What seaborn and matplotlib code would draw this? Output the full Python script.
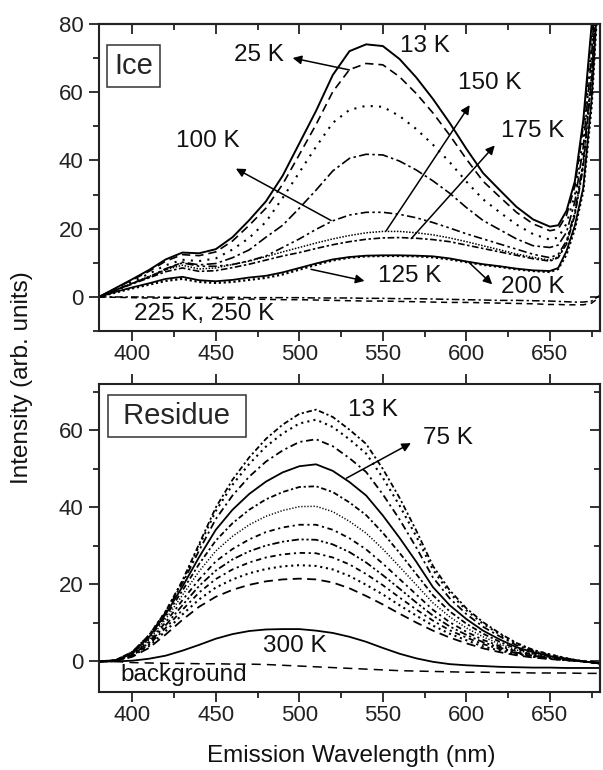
import matplotlib
matplotlib.use("Agg")
import matplotlib.pyplot as plt
import seaborn as sns
from matplotlib.ticker import MultipleLocator

sns.set_theme(style="ticks")
plt.rcParams["font.family"] = ["Liberation Sans", "DejaVu Sans"]
plt.rcParams["axes.linewidth"] = 1.5
plt.rcParams["axes.edgecolor"] = "#222222"

# ---------------- DATA: Ice panel ---------------- #
wl_ice = [380, 390, 400, 410, 420, 430, 440, 450, 460, 470, 480, 490, 500, 510,
          520, 530, 540, 550, 560, 570, 580, 590, 600, 610, 620, 630, 640, 650,
          655, 660, 665, 670, 675, 680]

ice_13K = [0, 2.6, 5.2, 7.9, 11.0, 13.0, 12.8, 14.0, 17.5, 22.5, 28.0, 35.5, 45.0, 54.5,
           65.0, 72.0, 74.0, 73.5, 69.7, 64.3, 58.0, 51.0, 43.4, 36.3, 31.3, 26.4, 22.7, 20.6,
           21.0, 25.3, 34.0, 51.8, 79.7, 115]
ice_25K = [0, 2.5, 5.0, 7.5, 10.5, 12.4, 12.1, 13.2, 16.4, 21.0, 26.0, 33.0, 41.7, 50.5,
           60.1, 66.6, 68.4, 68.0, 64.5, 59.6, 53.9, 47.4, 40.4, 33.9, 29.3, 24.8, 21.4, 19.4,
           19.9, 24.0, 32.5, 50.0, 78.0, 114]
ice_50K = [0, 2.3, 4.5, 6.8, 9.3, 10.9, 10.5, 11.3, 13.9, 17.3, 22.0, 29.0, 36.5, 44.0,
           51.0, 54.8, 56.0, 55.7, 53.0, 49.2, 44.6, 39.5, 33.8, 28.6, 24.8, 21.2, 18.4, 16.8,
           17.4, 21.5, 30.0, 47.0, 74.0, 112]
ice_75K = [0, 2.0, 4.0, 5.9, 8.0, 10.2, 9.4, 9.8, 11.5, 13.8, 17.5, 21.0, 26.0, 31.3,
           36.9, 40.6, 41.8, 41.6, 39.8, 37.2, 34.0, 30.4, 26.2, 22.4, 19.7, 17.0, 15.0, 14.5,
           15.2, 19.0, 28.0, 44.0, 71.0, 110]
ice_100K = [0, 2.0, 4.0, 5.8, 8.3, 10.0, 9.0, 9.0, 9.5, 10.6, 12.0, 14.5, 17.0, 19.8,
            22.3, 24.0, 24.8, 24.8, 24.2, 23.2, 21.8, 20.2, 18.5, 17.0, 15.5, 14.0, 12.5, 11.5,
            12.5, 16.5, 25.0, 40.0, 66.0, 105]
ice_125K = [0, 1.5, 2.8, 4.0, 5.3, 5.9, 4.9, 4.6, 5.0, 5.7, 6.2, 7.2, 8.5, 9.8,
            11.0, 11.7, 12.1, 12.2, 12.2, 12.1, 11.9, 11.3, 10.4, 9.6, 9.0, 8.3, 7.8, 7.6,
            8.5, 13.5, 21.0, 32.0, 58.0, 100]
ice_150K = [0, 2.0, 4.0, 6.0, 8.0, 9.3, 8.2, 8.5, 9.5, 10.5, 11.8, 13.2, 14.5, 15.8,
            17.0, 18.0, 18.8, 19.2, 19.2, 18.8, 18.2, 17.3, 16.2, 15.0, 13.8, 12.6, 11.6, 10.8,
            11.8, 16.0, 24.5, 39.0, 65.0, 104]
ice_175K = [0, 1.9, 3.8, 5.6, 7.4, 8.5, 7.5, 7.7, 8.6, 9.6, 10.8, 12.0, 13.0, 14.2,
            15.3, 16.2, 16.9, 17.3, 17.4, 17.2, 16.8, 16.2, 15.2, 14.2, 13.2, 12.2, 11.2, 10.5,
            11.5, 15.5, 24.0, 38.0, 64.0, 103]
ice_200K = [0, 1.3, 2.5, 3.6, 4.7, 5.3, 4.4, 4.1, 4.4, 5.0, 5.6, 6.6, 8.0, 9.4,
            10.7, 11.5, 11.9, 12.0, 12.0, 11.9, 11.6, 11.0, 10.2, 9.4, 8.8, 8.1, 7.6, 7.3,
            8.2, 12.5, 20.0, 31.0, 56.0, 98]
ice_225K = [0, 0, 0, 0, -0.1, -0.1, -0.1, -0.1, -0.1, -0.2, -0.2, -0.2, -0.2, -0.3,
            -0.3, -0.3, -0.4, -0.4, -0.5, -0.5, -0.6, -0.7, -0.8, -0.9, -1.0, -1.0, -1.1, -1.2,
            -1.3, -1.4, -1.5, -1.5, -1.2, 0.5]
ice_250K = [0, -0.1, -0.2, -0.3, -0.3, -0.4, -0.4, -0.5, -0.6, -0.6, -0.7, -0.8, -0.8, -0.9,
            -1.0, -1.1, -1.2, -1.2, -1.3, -1.4, -1.5, -1.6, -1.6, -1.7, -1.8, -1.9, -2.0, -2.2,
            -2.2, -2.3, -2.3, -2.3, -1.8, 0.0]

# ---------------- DATA: Residue panel ---------------- #
wl_res = [380, 390, 400, 410, 420, 430, 440, 450, 460, 470, 480, 490, 500, 510, 520, 530,
          540, 550, 560, 570, 580, 590, 600, 610, 620, 630, 640, 650, 660, 670, 680]

res_13K = [0, 0.3, 2.5, 6.8, 13.0, 21.0, 30.5, 40.0, 47.2, 53.0, 57.8, 61.5, 64.3, 65.4, 63.5, 60.2,
           56.5, 50.0, 42.5, 34.0, 24.8, 18.5, 13.8, 10.2, 7.3, 4.8, 3.0, 1.8, 0.8, 0.0, -0.5]
res_25K = [0, 0.3, 2.4, 6.8, 13.0, 20.8, 30.0, 39.1, 45.9, 51.3, 55.8, 59.2, 61.8, 62.8, 60.9, 57.7,
           54.0, 47.7, 40.5, 32.5, 23.8, 17.8, 13.3, 9.8, 7.0, 4.6, 2.9, 1.8, 0.8, 0.0, -0.5]
res_50K = [0, 0.3, 2.4, 6.6, 12.8, 20.3, 28.8, 37.0, 43.1, 48.0, 51.9, 54.8, 57.0, 57.7, 55.9, 52.8,
           49.2, 43.4, 36.9, 29.6, 21.8, 16.4, 12.3, 9.0, 6.5, 4.2, 2.7, 1.6, 0.7, 0.0, -0.5]
res_75K = [0, 0.3, 2.2, 6.3, 12.3, 19.4, 27.1, 34.2, 39.4, 43.5, 46.7, 49.1, 50.7, 51.2, 49.5, 46.6,
           43.1, 37.9, 32.1, 25.9, 19.3, 14.6, 11.0, 8.0, 5.7, 3.7, 2.4, 1.4, 0.6, 0.0, -0.5]
res_100K = [0, 0.2, 2.1, 6.0, 11.7, 18.4, 25.3, 31.4, 35.9, 39.4, 42.1, 44.0, 45.3, 45.5, 44.0, 41.3,
            38.0, 33.4, 28.2, 22.7, 17.2, 13.0, 9.8, 7.2, 5.1, 3.3, 2.1, 1.3, 0.6, 0.0, -0.5]
res_125K = [0, 0.2, 2.0, 5.6, 11.0, 17.2, 23.4, 28.7, 32.5, 35.5, 37.7, 39.2, 40.2, 40.3, 38.9, 36.4,
            33.3, 29.2, 24.6, 19.9, 15.2, 11.6, 8.7, 6.4, 4.5, 3.0, 1.9, 1.1, 0.5, 0.0, -0.5]
res_150K = [0, 0.2, 1.8, 5.1, 10.2, 15.9, 21.3, 26.0, 29.2, 31.7, 33.6, 34.8, 35.5, 35.5, 34.2, 32.0,
            29.1, 25.4, 21.4, 17.4, 13.4, 10.2, 7.7, 5.6, 4.0, 2.6, 1.7, 1.0, 0.5, 0.0, -0.5]
res_175K = [0, 0.2, 1.7, 4.8, 9.4, 14.6, 19.6, 23.6, 26.5, 28.6, 30.1, 31.1, 31.7, 31.6, 30.4, 28.4,
            25.7, 22.4, 18.9, 15.3, 11.9, 9.1, 6.9, 5.0, 3.6, 2.3, 1.5, 0.9, 0.4, 0.0, -0.5]
res_200K = [0, 0.1, 1.5, 4.4, 8.7, 13.4, 17.9, 21.4, 23.9, 25.7, 27.0, 27.8, 28.2, 28.1, 27.0, 25.2,
            22.7, 19.8, 16.6, 13.5, 10.6, 8.1, 6.2, 4.5, 3.2, 2.1, 1.3, 0.8, 0.4, 0.0, -0.5]
res_225K = [0, 0.1, 1.4, 4.0, 7.9, 12.2, 16.1, 19.2, 21.3, 22.9, 24.0, 24.7, 25.0, 24.8, 23.9, 22.2,
            19.9, 17.4, 14.6, 11.9, 9.3, 7.2, 5.5, 3.9, 2.8, 1.9, 1.2, 0.7, 0.3, 0.0, -0.5]
res_250K = [0, 0.1, 1.2, 3.5, 7.0, 10.8, 14.2, 16.8, 18.6, 19.9, 20.8, 21.3, 21.5, 21.3, 20.5, 19.0,
            17.0, 14.8, 12.4, 10.1, 8.0, 6.2, 4.7, 3.4, 2.4, 1.6, 1.0, 0.6, 0.3, 0.0, -0.5]
res_300K = [0, 0, 0.2, 0.7, 1.5, 2.8, 4.3, 5.9, 7.1, 7.9, 8.3, 8.4, 8.4, 8.0, 7.4, 6.4,
            5.1, 3.5, 2.0, 0.8, -0.1, -0.7, -1.0, -1.2, -1.4, -1.5, -1.6, -1.6, -1.7, -1.7, -1.7]
res_bg = [0, 0, -0.3, -0.4, -0.5, -0.5, -0.6, -0.6, -0.7, -0.7, -0.8, -1.0, -1.2, -1.4, -1.6, -1.8,
          -2.0, -2.2, -2.4, -2.5, -2.6, -2.7, -2.8, -2.8, -2.9, -2.9, -3.0, -3.0, -3.0, -3.1, -3.1]

# (series, linestyle, linewidth)
ice_curves = [
    (ice_13K, "-", 1.4),
    (ice_25K, (0, (5, 3)), 1.2),
    (ice_50K, (0, (1, 3)), 1.5),
    (ice_75K, (0, (6, 2, 1.5, 2)), 1.2),
    (ice_100K, (0, (5, 2, 1.5, 2, 1.5, 2)), 1.2),
    (ice_125K, "-", 1.3),
    (ice_150K, (0, (1, 1)), 1.1),
    (ice_175K, (0, (4, 1.5, 1.5, 1.5)), 1.2),
    (ice_200K, (0, (1, 1.2)), 1.6),
    (ice_225K, (0, (5, 2, 1.5, 2)), 1.1),
    (ice_250K, (0, (4, 3)), 1.1),
]

res_curves = [
    (res_13K, (0, (3, 1.5, 1.2, 1.5)), 1.3),
    (res_25K, (0, (1, 2)), 1.5),
    (res_50K, (0, (4, 2, 1.2, 2)), 1.3),
    (res_75K, "-", 1.3),
    (res_100K, (0, (3, 1.5, 1.2, 1.5)), 1.3),
    (res_125K, (0, (0.8, 1.2)), 1.1),
    (res_150K, (0, (3, 2, 1.2, 2)), 1.3),
    (res_175K, (0, (4, 1.5, 1.2, 1.5, 1.2, 1.5)), 1.3),
    (res_200K, (0, (3, 2, 1.2, 2)), 1.3),
    (res_225K, (0, (1, 1.8)), 1.5),
    (res_250K, (0, (5, 3)), 1.3),
    (res_300K, "-", 1.3),
    (res_bg, (0, (6, 4)), 1.1),
]

fig = plt.figure(figsize=(6.03, 7.70), dpi=100)
ax1 = fig.add_axes([0.164, 0.570, 0.831, 0.399])
ax2 = fig.add_axes([0.164, 0.101, 0.831, 0.400])

for vals, ls, lw in ice_curves:
    sns.lineplot(x=wl_ice, y=vals, ax=ax1, color="black", linestyle=ls, linewidth=lw)
for vals, ls, lw in res_curves:
    sns.lineplot(x=wl_res, y=vals, ax=ax2, color="black", linestyle=ls, linewidth=lw)


def style_axis(ax, ylim, top_in):
    ax.set_xlim(380, 680)
    ax.set_ylim(*ylim)
    ax.xaxis.set_major_locator(MultipleLocator(50))
    ax.xaxis.set_minor_locator(MultipleLocator(25))
    ax.yaxis.set_major_locator(MultipleLocator(20))
    ax.yaxis.set_minor_locator(MultipleLocator(10))
    ax.tick_params(which="both", direction="out", width=1.3, colors="#222222",
                   labelcolor="#222222", labelsize=16)
    ax.tick_params(which="major", length=7)
    ax.tick_params(which="minor", length=4.5)
    ax.tick_params(axis="x", pad=2, top=not top_in)
    ax.tick_params(axis="y", pad=4)
    ax.set_xlabel("")
    ax.set_ylabel("")
    secy = ax.secondary_yaxis("right")
    secy.yaxis.set_major_locator(MultipleLocator(20))
    secy.yaxis.set_minor_locator(MultipleLocator(10))
    secy.tick_params(which="both", direction="in", labelright=False, width=1.3, colors="#222222")
    secy.tick_params(which="major", length=7)
    secy.tick_params(which="minor", length=4.5)
    if top_in:
        secx = ax.secondary_xaxis("top")
        secx.xaxis.set_major_locator(MultipleLocator(50))
        secx.xaxis.set_minor_locator(MultipleLocator(25))
        secx.tick_params(which="both", direction="in", labeltop=False, width=1.3, colors="#222222")
        secx.tick_params(which="major", length=7)
        secx.tick_params(which="minor", length=4.5)


style_axis(ax1, (-10, 80), True)
style_axis(ax2, (-8, 72), False)

arrow = dict(arrowstyle="-|>", color="black", lw=1.1, mutation_scale=13, shrinkA=0, shrinkB=0)
lab = dict(fontsize=17.5, ha="center", va="center", color="#111111")

# Ice annotations
ax1.text(400.7, 67.6, "Ice", fontsize=21, ha="center", va="center",
         bbox=dict(boxstyle="square,pad=0.25", fc="white", ec="#333333", lw=1.1))
ax1.text(575, 73.6, "13 K", **lab)
ax1.text(476, 70.9, "25 K", **lab)
ax1.annotate("", xy=(496, 70), xytext=(530, 66.5), arrowprops=arrow)
ax1.text(445, 45.6, "100 K", **lab)
ax1.annotate("", xy=(462, 37.6), xytext=(519, 22.4), arrowprops=arrow)
ax1.text(614, 62.6, "150 K", **lab)
ax1.annotate("", xy=(602, 56.2), xytext=(552, 19.4), arrowprops=arrow)
ax1.text(640, 48.5, "175 K", **lab)
ax1.annotate("", xy=(617, 44.4), xytext=(567, 17.1), arrowprops=arrow)
ax1.text(566, 6.2, "125 K", **lab)
ax1.annotate("", xy=(539, 4.7), xytext=(507, 8.1), arrowprops=arrow)
ax1.text(640, 2.8, "200 K", **lab)
ax1.annotate("", xy=(615.5, 3.7), xytext=(601.6, 10.1), arrowprops=arrow)
ax1.text(443, -5.1, "225 K, 250 K", **lab)

# Residue annotations
ax2.text(426.7, 63.7, " Residue ", fontsize=21, ha="center", va="center",
         bbox=dict(boxstyle="square,pad=0.25", fc="white", ec="#333333", lw=1.1))
ax2.text(544, 65.2, "13 K", **lab)
ax2.text(589, 58, "75 K", **lab)
ax2.annotate("", xy=(566.8, 56.7), xytext=(528.2, 47.6), arrowprops=arrow)
ax2.text(497, 3.9, "300 K", **lab)
ax2.text(431, -3.4, "background", **lab)

fig.text(0.037, 0.509, "Intensity (arb. units)", rotation=90, ha="center", va="center",
         fontsize=17.5, color="#111111")
fig.text(0.582, 0.018, "Emission Wavelength (nm)", ha="center", va="center",
         fontsize=17.5, color="#111111")

fig.savefig("out.png", dpi=100)
